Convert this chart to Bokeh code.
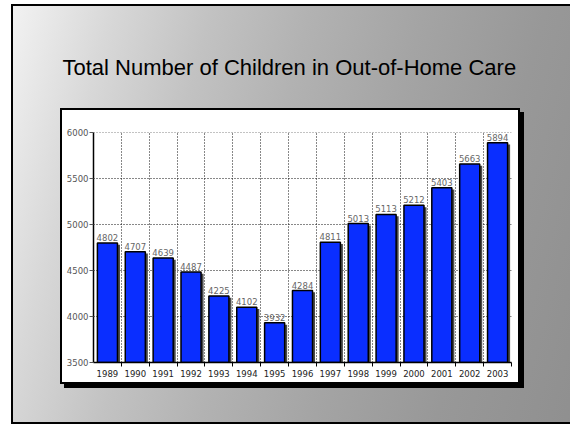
from bokeh.plotting import figure
from bokeh.models import ColumnDataSource, Range1d, FixedTicker, LabelSet
from bokeh.core.properties import value
from bokeh.transform import dodge
from bokeh.embed import file_html
from bokeh.resources import INLINE

# ---- data ----
years = [1989, 1990, 1991, 1992, 1993, 1994, 1995, 1996, 1997, 1998, 1999, 2000, 2001, 2002, 2003]
counts = [4802, 4707, 4639, 4487, 4225, 4102, 3932, 4284, 4811, 5013, 5113, 5212, 5403, 5663, 5894]
y_ticks = [3500, 4000, 4500, 5000, 5500, 6000]
title_text = "Total Number of Children in Out-of-Home Care"

boundaries = [y + 0.5 for y in years]

src = ColumnDataSource(dict(
    year=years,
    count=counts,
    shadow_top=[c - 20 for c in counts],
    label=[str(c) for c in counts],
))

p = figure(width=570, height=426,
           x_range=Range1d(years[0] - 0.5, years[-1] + 0.5),
           y_range=Range1d(3500, 6005),
           output_backend="svg", toolbar_location=None,
           min_border_left=93, min_border_right=59,
           min_border_top=131, min_border_bottom=64)

p.outline_line_color = None
p.background_fill_color = "white"
p.border_fill_color = None

bg = ("linear-gradient(#ffffff,#ffffff) 62px 110px / 456px 272px no-repeat, "
      "linear-gradient(#000000,#000000) 60px 108px / 460px 276px no-repeat, "
      "linear-gradient(#000000,#000000) 64px 112px / 460px 276px no-repeat, "
      "linear-gradient(105deg, #f2f2f2 0%, #d8d8d8 14%, #c2c2c2 28%, #b2b2b2 42%, #a4a4a4 58%, #989898 75%, #8d8d8d 100%) 13px 6px / 600px 416px no-repeat, "
      "linear-gradient(#000000,#000000) 11px 4px / 600px 420px no-repeat, "
      "#ffffff")
p.styles = {"background": bg}

# title
p.title.text = title_text
p.title.align = "left"
p.title.offset = -31
p.title.standoff = 105
p.title.text_font = "Liberation Sans"
p.title.text_font_style = "normal"
p.title.text_font_size = "22px"
p.title.text_color = "black"

# shadow of bars
p.vbar(x=dodge("year", 0.09, range=p.x_range), top="shadow_top", bottom=3500, width=0.72,
       source=src, fill_color="#4a4a4a", line_color=None)
# bars
p.vbar(x="year", top="count", bottom=3500, width=0.72, source=src,
       fill_color="#0a2eff", line_color="black", line_width=1.5)

labels = LabelSet(x="year", y="count", text="label", source=src, y_offset=2,
                  text_align="center", text_baseline="bottom",
                  text_font_size=value("8.5px"), text_font=value("DejaVu Sans"),
                  text_color="#666666")
p.add_layout(labels)

# x axis: labels at centres, ticks & grid at boundaries
xt = FixedTicker(ticks=years, minor_ticks=boundaries)
p.xaxis.ticker = xt
p.xgrid.ticker = xt
p.xaxis.major_label_overrides = {y: str(y) for y in years}
p.xaxis.major_tick_out = 0
p.xaxis.major_tick_in = 0
p.xaxis.minor_tick_out = 4
p.xaxis.minor_tick_in = 0
p.xaxis.minor_tick_line_color = "black"
p.xaxis.major_label_standoff = 3
p.xaxis.major_label_text_font = "DejaVu Sans"
p.xaxis.major_label_text_font_size = "8.5px"
p.xaxis.major_label_text_color = "#222222"
p.xaxis.axis_line_color = "black"
p.xaxis.axis_line_width = 1.5

p.xgrid.grid_line_color = None
p.xgrid.minor_grid_line_color = "#111111"
p.xgrid.minor_grid_line_dash = "1 2"
p.xgrid.minor_grid_line_width = 1

yt = FixedTicker(ticks=y_ticks, minor_ticks=[])
p.yaxis.ticker = yt
p.ygrid.ticker = yt
p.yaxis.major_tick_out = 4
p.yaxis.major_tick_in = 0
p.yaxis.minor_tick_out = 0
p.yaxis.minor_tick_in = 0
p.yaxis.major_label_standoff = 1
p.yaxis.major_label_text_font = "DejaVu Sans"
p.yaxis.major_label_text_font_size = "8.5px"
p.yaxis.major_label_text_color = "#555555"
p.yaxis.axis_line_color = "black"
p.yaxis.axis_line_width = 1.5
p.yaxis.major_tick_line_color = "#555555"

p.ygrid.grid_line_color = "#111111"
p.ygrid.grid_line_dash = "1 2"
p.ygrid.grid_line_width = 1

open("out.html", "w").write(file_html(p, INLINE))
